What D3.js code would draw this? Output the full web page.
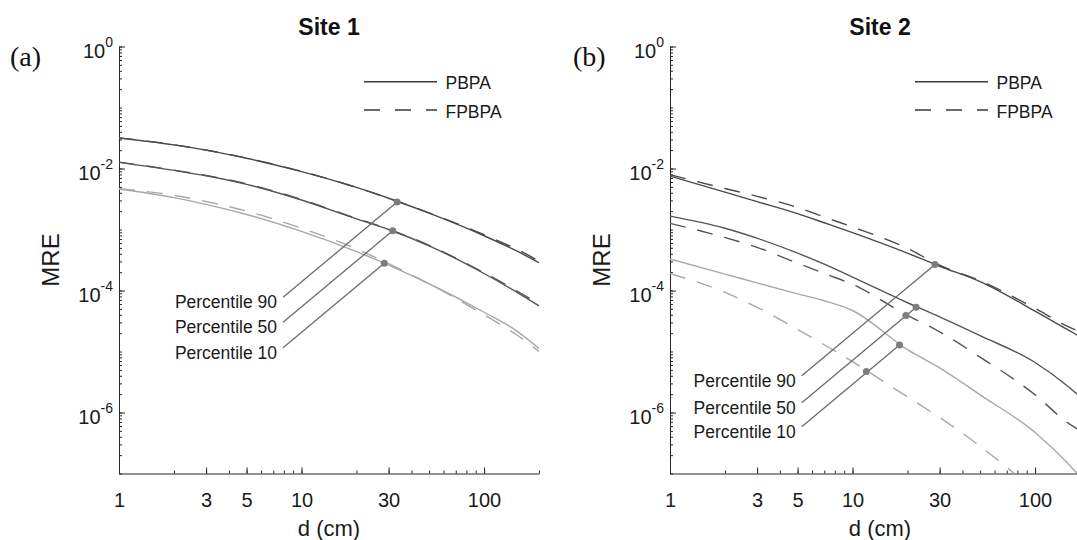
<!DOCTYPE html>
<html>
<head>
<meta charset="utf-8">
<script src="https://cdn.jsdelivr.net/npm/d3@7"></script>
<style>
  body { margin: 0; background: #ffffff; }
  svg { display: block; }
</style>
</head>
<body>
<div id="canvas"></div>
<script>
"use strict"

/*** DATA ***/
/* Site 1: distance d (cm) and MRE per percentile, PBPA = solid, FPBPA = dashed */
let site1D    = [1, 2, 3, 5, 10, 20, 30, 50, 100, 150, 200]
let site1P90  = [3.16e-2, 2.44e-2, 2.00e-2, 1.47e-2, 8.9e-3, 4.9e-3, 3.25e-3, 1.85e-3, 7.9e-4, 4.5e-4, 2.85e-4]
let site1P90F = [3.18e-2, 2.45e-2, 2.01e-2, 1.48e-2, 9.0e-3, 4.9e-3, 3.26e-3, 1.87e-3, 8.2e-4, 4.8e-4, 3.05e-4]
let site1P50  = [1.26e-2, 9.3e-3, 7.6e-3, 5.5e-3, 3.05e-3, 1.49e-3, 1.0e-3, 5.4e-4, 1.9e-4, 9.5e-5, 5.6e-5]
let site1P50F = [1.27e-2, 9.4e-3, 7.7e-3, 5.6e-3, 3.1e-3, 1.52e-3, 1.01e-3, 5.5e-4, 1.95e-4, 1.0e-4, 6.0e-5]
let site1P10  = [4.61e-3, 3.33e-3, 2.58e-3, 1.76e-3, 9.3e-4, 4.34e-4, 2.61e-4, 1.29e-4, 4.4e-5, 2.2e-5, 1.12e-5]
let site1P10F = [4.68e-3, 3.63e-3, 2.88e-3, 2.0e-3, 1.05e-3, 4.8e-4, 2.75e-4, 1.29e-4, 4.0e-5, 1.9e-5, 1.0e-5]

/* Site 2 */
let site2D    = [1, 2, 3, 5, 7, 10, 20, 30, 50, 100, 150, 170]
let site2P90  = [7.5e-3, 4.1e-3, 2.86e-3, 1.82e-3, 1.29e-3, 8.9e-4, 4.1e-4, 2.5e-4, 1.4e-4, 4.6e-5, 2.3e-5, 1.86e-5]
let site2P90F = [7.9e-3, 4.7e-3, 3.5e-3, 2.3e-3, 1.6e-3, 1.1e-3, 4.9e-4, 2.6e-4, 1.45e-4, 5.1e-5, 2.6e-5, 2.2e-5]
let site2P50  = [1.66e-3, 1.05e-3, 7.2e-4, 4.1e-4, 2.7e-4, 1.66e-4, 6.3e-5, 3.7e-5, 1.82e-5, 6.6e-6, 2.75e-6, 2.0e-6]
let site2P50F = [1.26e-3, 7.4e-4, 5.1e-4, 2.8e-4, 1.9e-4, 1.26e-4, 3.9e-5, 2.1e-5, 8.1e-6, 1.95e-6, 6.9e-7, 5.4e-7]
let site2P10  = [3.28e-4, 1.86e-4, 1.33e-4, 8.8e-5, 6.8e-5, 4.7e-5, 1.07e-5, 5.4e-6, 1.95e-6, 4.7e-7, 1.5e-7, 1.0e-7]
let site2P10F = [1.9e-4, 9.3e-5, 5.3e-5, 2.3e-5, 1.29e-5, 6.8e-6, 1.8e-6, 8.3e-7, 2.8e-7, 5e-8, 1.6e-8, 1.2e-8]

/* Highlighted points, group = which percentile label they belong to (0: 90, 1: 50, 2: 10) */
let site1MarkD = [33.4, 31.6, 28.4]
let site1MarkV = [2.82e-3, 9.55e-4, 2.79e-4]
let site1MarkGroup = [0, 1, 2]
let site2MarkD = [28.3, 22.3, 19.6, 18.1, 11.9]
let site2MarkV = [2.67e-4, 5.3e-5, 3.9e-5, 1.28e-5, 4.7e-6]
let site2MarkGroup = [0, 1, 1, 2, 2]

let percentileLabels = ["Percentile 90", "Percentile 50", "Percentile 10"]
let legendLabels = ["PBPA", "FPBPA"]
let siteTitles = ["Site 1", "Site 2"]
let panelTags = ["(a)", "(b)"]
let xTickValues = [1, 3, 5, 10, 30, 100]
let yTickValues = [1, 1e-2, 1e-4, 1e-6]

/*** CANVAS SETUP ***/
let svgWidth = 1077
let svgHeight = 540
let plotTop = 46.5          // y of 10^0
let plotBottom = 473.5      // y of 10^-7
let fontSans = "'Liberation Sans', Arial, Helvetica, sans-serif"
let fontSerif = "'Liberation Serif', 'Times New Roman', serif"
let axisColor = "#262626"
let darkLine = "#4a4a4a"
let midLine = "#555555"
let lightLine = "#a8a8a8"
let dashPattern = "16,12"

let svg = d3.select("#canvas")
    .append("svg")
    .attr("width", svgWidth)
    .attr("height", svgHeight)
    .attr("font-family", fontSans)

svg.append("rect")
    .attr("width", svgWidth)
    .attr("height", svgHeight)
    .attr("fill", "#ffffff")

/* panel settings: left edge, right edge (x of d = 200), label anchor, tag position */
let panels = [
    {
        x0: 119, x1: 539, tagX: 10, labelD: 7.92,
        d: site1D,
        series: [
            [site1P90, darkLine, false], [site1P50, midLine, false], [site1P10, lightLine, false],
            [site1P90F, darkLine, true], [site1P50F, midLine, true], [site1P10F, lightLine, true]
        ],
        markD: site1MarkD, markV: site1MarkV, markGroup: site1MarkGroup
    },
    {
        x0: 670, x1: 1090, tagX: 573, labelD: 5.27,
        d: site2D,
        series: [
            [site2P90, darkLine, false], [site2P50, midLine, false], [site2P10, lightLine, false],
            [site2P90F, darkLine, true], [site2P50F, midLine, true], [site2P10F, lightLine, true]
        ],
        markD: site2MarkD, markV: site2MarkV, markGroup: site2MarkGroup
    }
]

panels.forEach(function (p, i) { drawPanel(p, i) })

/**** function drawPanel(p, i) *****
 *  Draws one log-log panel: axes, curves, highlighted points with
 *  leader lines, legend, title and labels.
*****/
function drawPanel(p, i) {
    let x = d3.scaleLog().domain([1, 200]).range([p.x0, p.x1])
    let y = d3.scaleLog().domain([1e-7, 1]).range([plotBottom, plotTop])
    let g = svg.append("g")

    /* clip the curves to the plot box */
    svg.append("clipPath")
        .attr("id", "clip" + i)
        .append("rect")
        .attr("x", p.x0)
        .attr("y", plotTop - 2)
        .attr("width", p.x1 - p.x0)
        .attr("height", plotBottom - plotTop + 2)

    /* minor ticks, pointing inside */
    g.append("g")
        .attr("transform", "translate(" + p.x0 + ",0)")
        .call(d3.axisLeft(y).tickValues(y.ticks()).tickSize(-3).tickFormat(""))
        .attr("color", axisColor)
        .call(function (a) { a.select(".domain").remove() })

    g.append("g")
        .attr("transform", "translate(0," + plotBottom + ")")
        .call(d3.axisBottom(x).tickValues(x.ticks()).tickSize(-3).tickFormat(""))
        .attr("color", axisColor)
        .call(function (a) { a.select(".domain").remove() })

    /* major y axis with 10^n labels */
    let yAxis = g.append("g")
        .attr("transform", "translate(" + p.x0 + ",0)")
        .call(d3.axisLeft(y).tickValues(yTickValues).tickSize(-6).tickSizeOuter(0)
            .tickPadding(6).tickFormat(function () { return "10" }))
        .attr("color", axisColor)
        .attr("font-size", 20)
        .attr("font-family", fontSans)

    yAxis.selectAll(".tick text")
        .attr("fill", "#1a1a1a")
        .attr("dy", "0.55em")
        .append("tspan")
        .attr("dy", -11)
        .attr("font-size", 14)
        .text(function (v) { return Math.round(Math.log10(v)) })

    /* major x axis */
    g.append("g")
        .attr("transform", "translate(0," + plotBottom + ")")
        .call(d3.axisBottom(x).tickValues(xTickValues).tickSize(-6).tickSizeOuter(0)
            .tickPadding(19).tickFormat(d3.format("d")))
        .attr("color", axisColor)
        .attr("font-size", 20)
        .attr("font-family", fontSans)
        .selectAll(".tick text")
        .attr("fill", "#1a1a1a")

    /* curves */
    let line = d3.line()
        .x(function (v) { return x(v[0]) })
        .y(function (v) { return y(v[1]) })
        .curve(d3.curveMonotoneX)

    let curves = g.append("g").attr("clip-path", "url(#clip" + i + ")")
    p.series.forEach(function (s) {
        let pts = p.d.map(function (dd, k) { return [dd, s[0][k]] })
        curves.append("path")
            .attr("d", line(pts))
            .attr("fill", "none")
            .attr("stroke", s[1])
            .attr("stroke-width", 1.4)
            .attr("stroke-dasharray", s[2] ? dashPattern : null)
    })

    /* leader lines from label to highlighted points (40 deg lines) */
    let slope = 0.835
    let sx = x(p.labelD)
    percentileLabels.forEach(function (label, k) {
        let idx = p.markGroup.map(function (gr, m) { return gr === k ? m : -1 })
            .filter(function (m) { return m >= 0 })
        let top = idx.reduce(function (a, b) { return p.markD[b] > p.markD[a] ? b : a })
        let mx = x(p.markD[top])
        let my = y(p.markV[top])
        let sy = my + slope * (mx - sx)

        g.append("line")
            .attr("x1", sx).attr("y1", sy)
            .attr("x2", mx).attr("y2", my)
            .attr("stroke", "#6b6b6b")
            .attr("stroke-width", 1.3)

        g.append("text")
            .attr("x", sx - 6)
            .attr("y", sy + 11)
            .attr("text-anchor", "end")
            .attr("font-size", 17.5)
            .attr("fill", "#1a1a1a")
            .text(label)
    })

    g.selectAll("circle.mark")
        .data(p.markD)
        .join("circle")
        .attr("class", "mark")
        .attr("cx", function (dd) { return x(dd) })
        .attr("cy", function (dd, m) { return y(p.markV[m]) })
        .attr("r", 3.5)
        .attr("fill", "#7d7d7d")

    /* legend */
    legendLabels.forEach(function (label, k) {
        let ly = 81.7 + k * 28.3
        g.append("line")
            .attr("x1", p.x0 + 245).attr("x2", p.x0 + 318)
            .attr("y1", ly).attr("y2", ly)
            .attr("stroke", "#3a3a3a")
            .attr("stroke-width", 1.4)
            .attr("stroke-dasharray", k === 1 ? "16,15" : null)
        g.append("text")
            .attr("x", p.x0 + 326.5)
            .attr("y", ly + 7.6)
            .attr("font-size", 17.5)
            .attr("fill", "#1a1a1a")
            .text(label)
    })

    /* title, tag and axis labels */
    let cx = (p.x0 + p.x1) / 2
    g.append("text")
        .attr("x", cx).attr("y", 35)
        .attr("text-anchor", "middle")
        .attr("font-size", 23)
        .attr("font-weight", "bold")
        .attr("fill", "#111111")
        .text(siteTitles[i])

    g.append("text")
        .attr("x", p.tagX).attr("y", 66)
        .attr("font-family", fontSerif)
        .attr("font-size", 28)
        .attr("fill", "#111111")
        .text(panelTags[i])

    g.append("text")
        .attr("x", cx).attr("y", 536)
        .attr("text-anchor", "middle")
        .attr("font-size", 22)
        .attr("fill", "#1a1a1a")
        .text("d (cm)")

    g.append("text")
        .attr("transform", "translate(" + (p.x0 - 60.5) + "," + ((plotTop + plotBottom) / 2) + ") rotate(-90)")
        .attr("text-anchor", "middle")
        .attr("font-size", 24)
        .attr("fill", "#1a1a1a")
        .text("MRE")
}
</script>
</body>
</html>
